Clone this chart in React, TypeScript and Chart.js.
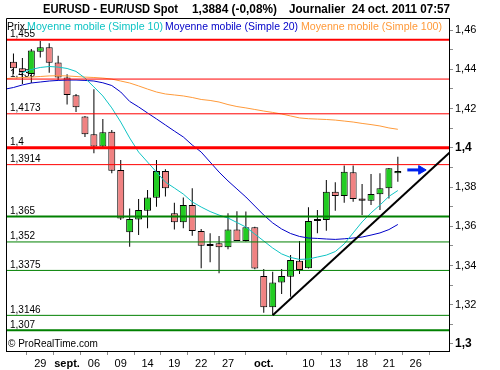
import React, { useEffect, useRef } from 'react';
import { Chart, registerables } from 'chart.js';

Chart.register(...registerables);

const FONT = '"Liberation Sans", Arial, Helvetica, sans-serif';

// ---- data -------------------------------------------------------------
// trading days, 24 Aug 2011 (index 0) -> 24 Oct 2011 (index 43)
const openP = [1.4438, 1.4405, 1.4376, 1.4489, 1.4512, 1.4435, 1.4358, 1.4267, 1.4159, 1.4069, 1.4006, 1.4082, 1.3887, 1.3569, 1.3635, 1.3679, 1.3745, 1.3882, 1.3666, 1.362, 1.3708, 1.3576, 1.3502, 1.3513, 1.3493, 1.3584, 1.3525, 1.3595, 1.3346, 1.3187, 1.3314, 1.3343, 1.3424, 1.3386, 1.3629, 1.3632, 1.3776, 1.3754, 1.3875, 1.3742, 1.373, 1.3763, 1.3793, 1.387];
const highP = [1.448, 1.4457, 1.4503, 1.4544, 1.4532, 1.4469, 1.4374, 1.4274, 1.4162, 1.4298, 1.4146, 1.409, 1.3938, 1.3691, 1.3739, 1.3785, 1.3938, 1.389, 1.372, 1.3747, 1.3793, 1.3586, 1.3564, 1.355, 1.3666, 1.3676, 1.3675, 1.3598, 1.3382, 1.3368, 1.3382, 1.3453, 1.3525, 1.3697, 1.3683, 1.3836, 1.3824, 1.3909, 1.3909, 1.3815, 1.3866, 1.387, 1.3897, 1.3954];
const lowP = [1.4376, 1.4325, 1.433, 1.446, 1.4382, 1.4345, 1.422, 1.4182, 1.4055, 1.3972, 1.4004, 1.387, 1.3632, 1.3496, 1.3555, 1.359, 1.37, 1.3751, 1.3584, 1.359, 1.3552, 1.3386, 1.3416, 1.336, 1.3483, 1.3525, 1.3522, 1.3381, 1.3159, 1.3148, 1.3255, 1.3241, 1.3357, 1.3385, 1.3564, 1.3577, 1.3679, 1.372, 1.3725, 1.3657, 1.3708, 1.3683, 1.3742, 1.3827];
const closeP = [1.4405, 1.4386, 1.4496, 1.4512, 1.4433, 1.4358, 1.4269, 1.4206, 1.4069, 1.4006, 1.4079, 1.3883, 1.364, 1.3637, 1.3683, 1.3747, 1.3882, 1.3793, 1.362, 1.3708, 1.3576, 1.3501, 1.35, 1.3493, 1.3584, 1.3525, 1.3595, 1.3385, 1.3187, 1.3314, 1.3346, 1.3428, 1.3377, 1.3627, 1.3627, 1.3776, 1.3754, 1.3878, 1.3739, 1.373, 1.3764, 1.3793, 1.3895, 1.3882];

// moving averages; each list starts at the day index given by its *Start constant
const ma10Start = 1;
const ma10 = [1.4383, 1.4399, 1.4409, 1.4414, 1.4411, 1.4404, 1.4389, 1.4355, 1.431, 1.4264, 1.4203, 1.4131, 1.405, 1.3978, 1.3927, 1.3876, 1.3825, 1.3795, 1.3764, 1.3724, 1.3698, 1.3675, 1.3657, 1.3642, 1.3619, 1.3596, 1.356, 1.3525, 1.3489, 1.3459, 1.3441, 1.3431, 1.3433, 1.3443, 1.3453, 1.3471, 1.351, 1.3566, 1.3622, 1.3668, 1.3708, 1.3752, 1.3782];
const ma20Start = -1;
const ma20 = [1.4298, 1.4307, 1.432, 1.433, 1.4335, 1.434, 1.4343, 1.4345, 1.4345, 1.4343, 1.434, 1.4331, 1.4317, 1.4284, 1.4236, 1.4208, 1.4177, 1.4147, 1.4116, 1.4085, 1.4055, 1.4014, 1.3978, 1.3927, 1.3876, 1.3831, 1.379, 1.3749, 1.3703, 1.3657, 1.3617, 1.3586, 1.3563, 1.3548, 1.354, 1.3538, 1.3535, 1.3533, 1.3536, 1.354, 1.3545, 1.3555, 1.3566, 1.3583, 1.3609];
const ma100Start = -1;
const ma100 = [1.4352, 1.4355, 1.4358, 1.436, 1.4363, 1.4366, 1.4367, 1.4366, 1.4363, 1.436, 1.4358, 1.4355, 1.435, 1.434, 1.433, 1.4315, 1.4299, 1.4284, 1.4274, 1.4269, 1.4264, 1.4256, 1.4246, 1.4241, 1.4233, 1.422, 1.421, 1.4203, 1.4195, 1.4187, 1.418, 1.4172, 1.4162, 1.4152, 1.4148, 1.4146, 1.4144, 1.4141, 1.4136, 1.4131, 1.4124, 1.4118, 1.4111, 1.4101, 1.4094];

const redLevels = [1.455, 1.435, 1.4173, 1.4, 1.3914];
const redLabels = ['1,455', '1,435', '1,4173', '1,4', '1,3914'];
const greenLevels = [1.365, 1.352, 1.3375, 1.3146, 1.307];
const greenLabels = ['1,365', '1,352', '1,3375', '1,3146', '1,307'];

const trendX = [29, 48.8];
const trendY = [1.3146, 1.3976];
const arrowX = [44.06, 45.61];
const arrowY = [1.3887, 1.3887];

const xTickIndex = [3, 6, 9, 12, 15, 18, 21, 24, 28, 33, 36, 39, 42, 45];
const xTickLabels = ['29', 'sept.', '06', '09', '14', '19', '22', '27', 'oct.', '10', '13', '18', '21', '26'];
const xBoldLabels = ['sept.', 'oct.'];

const yTickValues = [1.30, 1.31, 1.32, 1.33, 1.34, 1.35, 1.36, 1.37, 1.38, 1.39, 1.40, 1.41, 1.42, 1.43, 1.44, 1.45, 1.46];
const yTickLabels = ['1,3', '', '1,32', '', '1,34', '', '1,36', '', '1,38', '', '1,4', '', '1,42', '', '1,44', '', '1,46'];
const yBoldLabels = ['1,3', '1,4'];

const titleParts = ['EURUSD - EUR/USD Spot', '1,3884 (-0,08%)', 'Journalier  24 oct. 2011 07:57'];
const legendParts = ['Prix', 'Moyenne mobile (Simple 10)', 'Moyenne mobile (Simple 20)', 'Moyenne mobile (Simple 100)'];
const copyright = '\u00A9 ProRealTime.com';

// ---- styles -----------------------------------------------------------
const C_UP = '#22cc22';
const C_DOWN = '#f08282';
const C_MA10 = '#10c4c4';
const C_MA20 = '#0000c8';
const C_MA100 = '#ff9a3a';
const C_RED = '#ff0000';
const C_GREEN = '#008000';
const thickLevels = [1.455, 1.4, 1.365, 1.307];
const thickWidth: Record<string, number> = { '1.455': 2, '1.4': 3, '1.365': 2, '1.307': 2 };
const legendColors = ['#000000', C_MA10, C_MA20, C_MA100];
const legendX = [7, 27, 165, 301];
const legendW = [18, 136, 133, 141];
const titleX = [43, 192, 289];
const titleW = [135, 85, 161];
const X_MIN = -7.5 / 9;
const X_MAX = 438.5 / 9;
const Y_MIN = 1.3 - 7 / 1962.5;
const Y_MAX = 1.3 + 326 / 1962.5;

const xLabelFor = (v: number) => {
  const k = xTickIndex.indexOf(v);
  return k >= 0 ? xTickLabels[k] : '';
};
const yLabelFor = (v: number) => {
  const k = yTickValues.findIndex((t) => Math.abs(t - v) < 1e-6);
  return k >= 0 ? yTickLabels[k] : '';
};

const overlay = {
  id: 'overlay',
  beforeDatasetsDraw(chart: any) {
    const { ctx, chartArea: a, scales } = chart;
    ctx.save();
    ctx.beginPath();
    ctx.rect(a.left, a.top, a.right - a.left, a.bottom - a.top);
    ctx.clip();
    ctx.font = `10px ${FONT}`;
    ctx.fillStyle = '#000';
    ctx.textAlign = 'left';
    ctx.textBaseline = 'alphabetic';
    const all = [...redLevels, ...greenLevels];
    const labels = [...redLabels, ...greenLabels];
    all.forEach((v, k) => {
      ctx.fillText(labels[k], a.left + 4, scales.y.getPixelForValue(v) - 2.5);
    });
    ctx.restore();
  },
  afterDraw(chart: any) {
    const { ctx, chartArea: a } = chart;
    ctx.save();
    ctx.strokeStyle = '#000';
    ctx.lineWidth = 1;
    ctx.beginPath();
    ctx.moveTo(Math.round(a.left) + 0.5, a.bottom);
    ctx.lineTo(Math.round(a.left) + 0.5, Math.round(a.top) + 0.5);
    ctx.lineTo(a.right, Math.round(a.top) + 0.5);
    ctx.stroke();
    ctx.font = `11px ${FONT}`;
    ctx.textAlign = 'left';
    ctx.textBaseline = 'alphabetic';
    legendParts.forEach((t, k) => {
      ctx.fillStyle = legendColors[k];
      ctx.fillText(t, legendX[k], a.top + 12, legendW[k]);
    });
    ctx.font = `bold 12px ${FONT}`;
    ctx.fillStyle = '#000';
    titleParts.forEach((t, k) => {
      ctx.fillText(t, titleX[k], 13, titleW[k]);
    });
    ctx.font = `10px ${FONT}`;
    ctx.fillText(copyright, a.left + 2, a.bottom - 4.5, 93);
    ctx.restore();
  },
};

export default function App() {
  const ref = useRef<HTMLCanvasElement>(null);
  useEffect(() => {
    const canvas = ref.current;
    if (!canvas) return;
    const idx = closeP.map((_, i) => i);
    const bodies = idx.map((i) => ({ x: i, y: [openP[i], closeP[i]] }));
    const wicks = idx.map((i) => ({ x: i, y: [lowP[i], highP[i]] }));
    const bodyColors = idx.map((i) => (closeP[i] >= openP[i] ? C_UP : C_DOWN));
    const line = (vals: number[], start: number, color: string) => ({
      type: 'line' as const,
      data: vals.map((v, i) => ({ x: start + i, y: v })),
      borderColor: color,
      borderWidth: 1,
      pointRadius: 0,
      tension: 0,
      fill: false,
    });
    const level = (v: number, color: string) => ({
      type: 'line' as const,
      data: [{ x: -5, y: v }, { x: 60, y: v }],
      borderColor: color,
      borderWidth: thickLevels.includes(v) ? thickWidth[String(v)] : 1,
      pointRadius: 0,
      fill: false,
    });
    const datasets: any[] = [
      {
        type: 'line',
        data: arrowX.map((x, k) => ({ x, y: arrowY[k] })),
        borderColor: '#0022ee',
        borderWidth: 3,
        pointRadius: [0, 5],
        pointStyle: 'triangle',
        rotation: 90,
        pointBackgroundColor: '#0022ee',
        pointBorderColor: '#0022ee',
        pointBorderWidth: 1,
        fill: false,
      },
      {
        type: 'line',
        data: trendX.map((x, k) => ({ x, y: trendY[k] })),
        borderColor: '#000',
        borderWidth: 2,
        pointRadius: 0,
        fill: false,
      },
      ...redLevels.map((v) => level(v, C_RED)),
      ...greenLevels.map((v) => level(v, C_GREEN)),
      line(ma10, ma10Start, C_MA10),
      line(ma20, ma20Start, C_MA20),
      line(ma100, ma100Start, C_MA100),
      {
        type: 'bar',
        data: bodies,
        backgroundColor: bodyColors,
        borderColor: '#000',
        borderWidth: 1,
        borderSkipped: false,
        barThickness: 7,
        minBarLength: 2,
        grouped: false,
        inflateAmount: 0,
      },
      {
        type: 'bar',
        data: wicks,
        backgroundColor: '#000',
        borderWidth: 0,
        barThickness: 1,
        grouped: false,
        inflateAmount: 0,
      },
    ];
    const chart = new Chart(canvas, {
      type: 'bar',
      data: { datasets },
      plugins: [overlay],
      options: {
        responsive: false,
        animation: false,
        events: [],
        devicePixelRatio: 1,
        layout: { padding: { top: 18, left: 3, right: 0, bottom: 0 } },
        plugins: {
          legend: { display: false },
          title: { display: false },
          tooltip: { enabled: false },
        },
        scales: {
          x: {
            type: 'linear',
            min: X_MIN,
            max: X_MAX,
            offset: false,
            afterBuildTicks: (s: any) => {
              s.ticks = xTickIndex.map((v) => ({ value: v }));
            },
            afterFit: (s: any) => {
              s.height = 19;
            },
            ticks: {
              autoSkip: false,
              maxRotation: 0,
              minRotation: 0,
              padding: 2,
              color: '#000',
              callback: (v: any) => xLabelFor(Number(v)),
              font: (c: any) => ({
                family: FONT,
                size: 11,
                weight: c.tick && xBoldLabels.includes(xLabelFor(c.tick.value)) ? 'bold' : 'normal',
              }),
            },
            grid: { drawOnChartArea: false, drawTicks: true, tickLength: 4, color: '#8c8c8c' },
            border: { display: true, color: '#000', width: 1 },
          },
          y: {
            type: 'linear',
            position: 'right',
            min: Y_MIN,
            max: Y_MAX,
            afterBuildTicks: (s: any) => {
              s.ticks = yTickValues.map((v) => ({ value: v }));
            },
            afterFit: (s: any) => {
              s.width = 51;
            },
            ticks: {
              autoSkip: false,
              padding: 2,
              color: '#000',
              callback: (v: any) => yLabelFor(Number(v)),
              font: (c: any) => {
                const bold = c.tick && yBoldLabels.includes(yLabelFor(c.tick.value));
                return { family: FONT, size: bold ? 12 : 11, weight: bold ? 'bold' : 'normal' };
              },
            },
            grid: { drawOnChartArea: false, drawTicks: true, tickLength: 4, color: '#8c8c8c' },
            border: { display: true, color: '#000', width: 1 },
          },
        },
      } as any,
    });
    return () => chart.destroy();
  }, []);
  return (
    <div style={{ position: 'absolute', left: 0, top: 0, width: 500, height: 370, background: '#fff' }}>
      <canvas ref={ref} width={500} height={370} style={{ display: 'block', width: 500, height: 370 }} />
    </div>
  );
}
